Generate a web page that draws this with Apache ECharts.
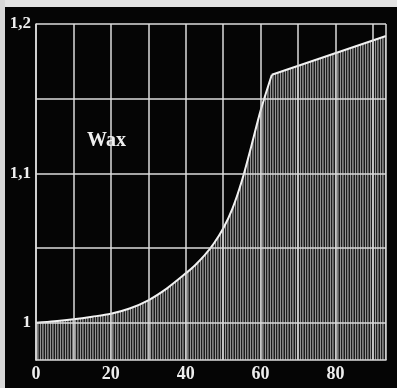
<!DOCTYPE html>
<html>
<head>
<meta charset="utf-8">
<script src="https://cdn.jsdelivr.net/npm/echarts@6/dist/echarts.min.js"></script>
<style>
html,body{margin:0;padding:0;background:#050505;}
#c{width:397px;height:388px;}
</style>
</head>
<body>
<div id="c"></div>
<script>
// Data
const curveX = [0, 5, 10, 15, 20, 25, 30, 35, 40, 42.5, 45, 47.5, 50, 52.5, 55, 57.5, 60, 63];
const curveY = [1.000, 1.001, 1.0023, 1.004, 1.006, 1.0095, 1.015, 1.023, 1.033, 1.0385, 1.045, 1.053, 1.063, 1.0765, 1.095, 1.118, 1.142, 1.166];
const lineX = [63, 93.5];
const lineY = [1.166, 1.192];
const xTickLabels = [0, 20, 40, 60, 80];
const yTickLabels = [1, 1.1, 1.2];
const seriesLabel = 'Wax';

const chart = echarts.init(document.getElementById('c'), null, {renderer: 'canvas'});

// vertical hatching pattern
const pc = document.createElement('canvas');
pc.width = 5; pc.height = 4;
const pctx = pc.getContext('2d');
const cols = ['#959595', '#1c1c1c', '#7e7e7e', '#606060', '#1c1c1c'];
cols.forEach((c, i) => { pctx.fillStyle = c; pctx.fillRect(i, 0, 1, 4); });

const fill = {color: {image: pc, repeat: 'repeat'}, opacity: 1, origin: 'start'};
const serifFont = "'Liberation Serif', 'DejaVu Serif', serif";
const gridColor = '#dcdcdc';

chart.setOption({
  animation: false,
  backgroundColor: '#050505',
  grid: {left: 36, right: 11, top: 24, bottom: 28, containLabel: false},
  xAxis: {
    type: 'value', min: 0, max: 93.5, interval: 10, z: 5,
    axisLine: {show: true, lineStyle: {color: gridColor, width: 1.5}},
    axisTick: {show: false},
    splitLine: {show: true, lineStyle: {color: gridColor, width: 1.5}},
    axisLabel: {
      show: true, margin: 5, color: '#eeeeee', fontFamily: serifFont, fontSize: 18, fontWeight: 'bold',
      showMaxLabel: false,
      formatter: v => xTickLabels.some(t => Math.abs(t - v) < 1e-6) ? String(Math.round(v)) : ''
    }
  },
  yAxis: {
    type: 'value', min: 0.975, max: 1.2, interval: 0.025, z: 5,
    axisLine: {show: true, lineStyle: {color: gridColor, width: 1.5}},
    axisTick: {show: false},
    splitLine: {show: true, lineStyle: {color: ['rgba(0,0,0,0)', gridColor], width: 1.5}},
    axisLabel: {
      show: true, margin: 5, color: '#eeeeee', fontFamily: serifFont, fontSize: 17, fontWeight: 'bold',
      formatter: v => {
        const t = yTickLabels.find(t => Math.abs(t - v) < 1e-6);
        return t === undefined ? '' : String(t).replace('.', ',');
      }
    }
  },
  graphic: [
    {type: 'rect', left: 0, top: 0, shape: {width: 397, height: 7}, style: {fill: '#e4e4e4'}, z: 100},
    {type: 'rect', left: 0, top: 0, shape: {width: 5, height: 388}, style: {fill: '#d8d8d8'}, z: 100},
    {type: 'text', left: 87, top: 131, style: {text: seriesLabel, fill: '#eeeeee', font: "bold 20px 'Liberation Serif', 'DejaVu Serif', serif"}, z: 100}
  ],
  series: [
    {
      type: 'line', data: curveX.map((x, i) => [x, curveY[i]]),
      smooth: 0.3, showSymbol: false, z: 2,
      lineStyle: {color: '#f2f2f2', width: 2},
      areaStyle: fill
    },
    {
      type: 'line', data: lineX.map((x, i) => [x, lineY[i]]),
      smooth: false, showSymbol: false, z: 2,
      lineStyle: {color: '#f2f2f2', width: 2},
      areaStyle: fill
    }
  ]
});
</script>
</body>
</html>
